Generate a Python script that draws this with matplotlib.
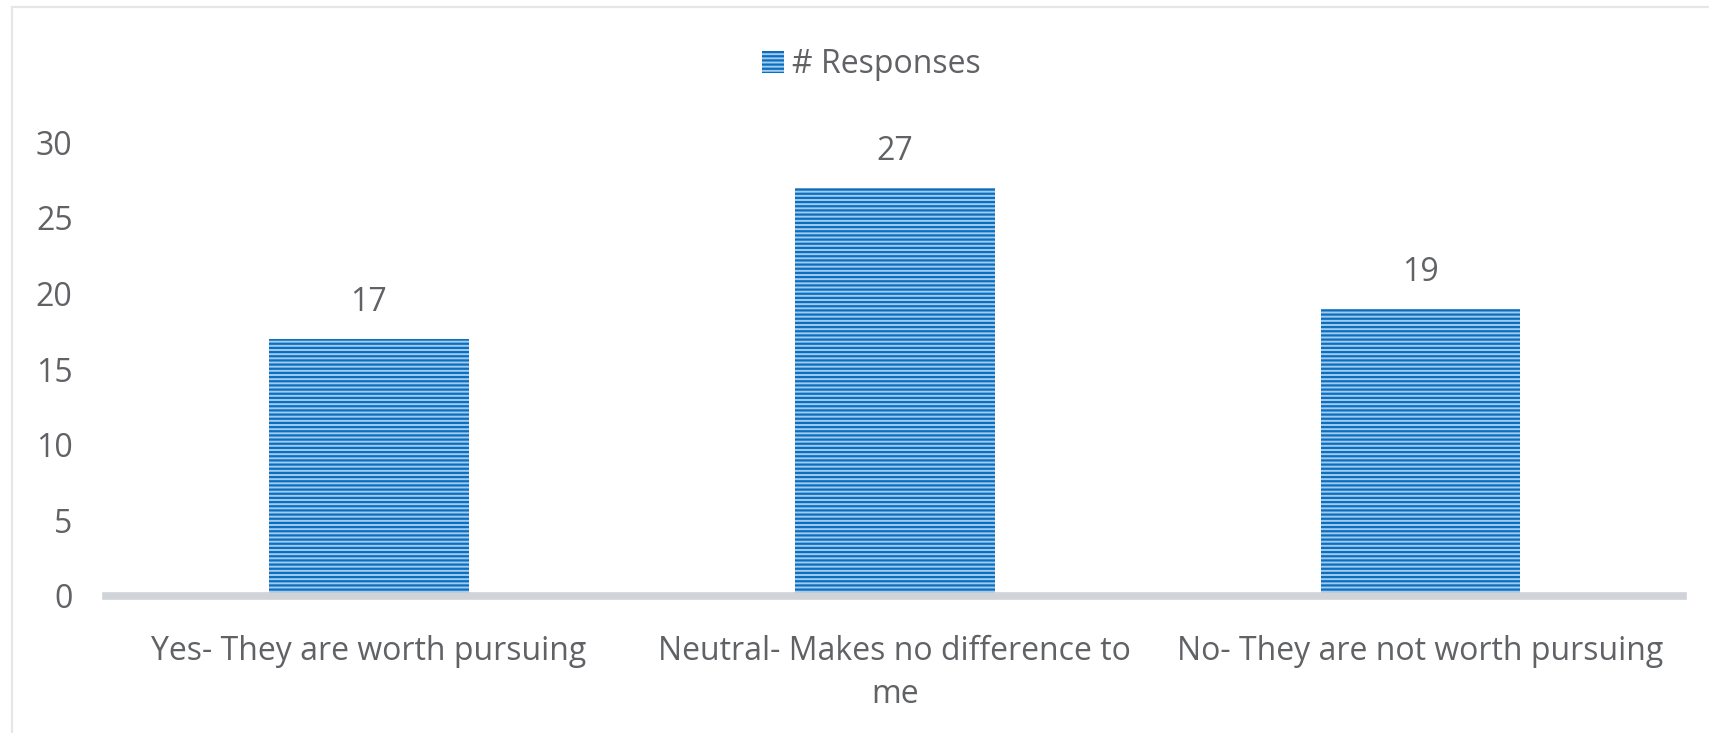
import matplotlib.pyplot as plt
from matplotlib.patches import Rectangle

# data
categories = ["Yes- They are worth pursuing",
              "Neutral- Makes no difference to\nme",
              "No- They are not worth pursuing"]
responses = [17, 27, 19]
yticks = [0, 5, 10, 15, 20, 25, 30]
series_name = "# Responses"

text_color = "#606266"
bar_face = "#a3cbee"
bar_lines = "#0b6fbf"
fs = 23

plt.rcParams["font.family"] = ["Open Sans", "DejaVu Sans"]
plt.rcParams["hatch.linewidth"] = 1.6
plt.rcParams["hatch.color"] = bar_lines

fig = plt.figure(figsize=(17.09, 7.33), dpi=100)
ax = fig.add_axes([0.062, 0.187, 0.923, 0.619])

x = range(len(categories))
bars = ax.bar(x, responses, width=0.38, color=bar_face, edgecolor=bar_lines,
              linewidth=0, hatch="----", label=series_name)

for xi, v in zip(x, responses):
    ax.annotate(str(v), (xi, v), xytext=(0, 14), textcoords="offset points",
                ha="center", va="bottom", fontsize=fs, color=text_color,
                annotation_clip=False)

ax.set_xlim(-0.5, len(categories) - 0.5)
ax.set_ylim(0, 30)
ax.set_yticks(yticks)
ax.set_xticks(list(x))
ax.set_xticklabels(categories, fontsize=fs, color=text_color, linespacing=1.4)
ax.tick_params(axis="y", labelsize=fs, labelcolor=text_color, length=0, pad=24)
ax.tick_params(axis="x", length=0, pad=28)

for side in ["top", "right", "left"]:
    ax.spines[side].set_visible(False)
ax.spines["bottom"].set_color("#d0d3d8")
ax.spines["bottom"].set_linewidth(5.5)

leg = fig.legend(handles=[bars], labels=[series_name], loc="center",
                 bbox_to_anchor=(0.51, 0.912), frameon=False, fontsize=fs,
                 handlelength=0.7, handleheight=0.7, handletextpad=0.25)
for t in leg.get_texts():
    t.set_color(text_color)

# light outer frame like the source screenshot
fig.patches.append(Rectangle((12 / 1709, -0.1), 1.2, 1 - 7 / 733 + 0.1,
                             transform=fig.transFigure, fill=False,
                             edgecolor="#e6e6e6", linewidth=1.6, zorder=-1))

fig.savefig("out.png", dpi=100)
